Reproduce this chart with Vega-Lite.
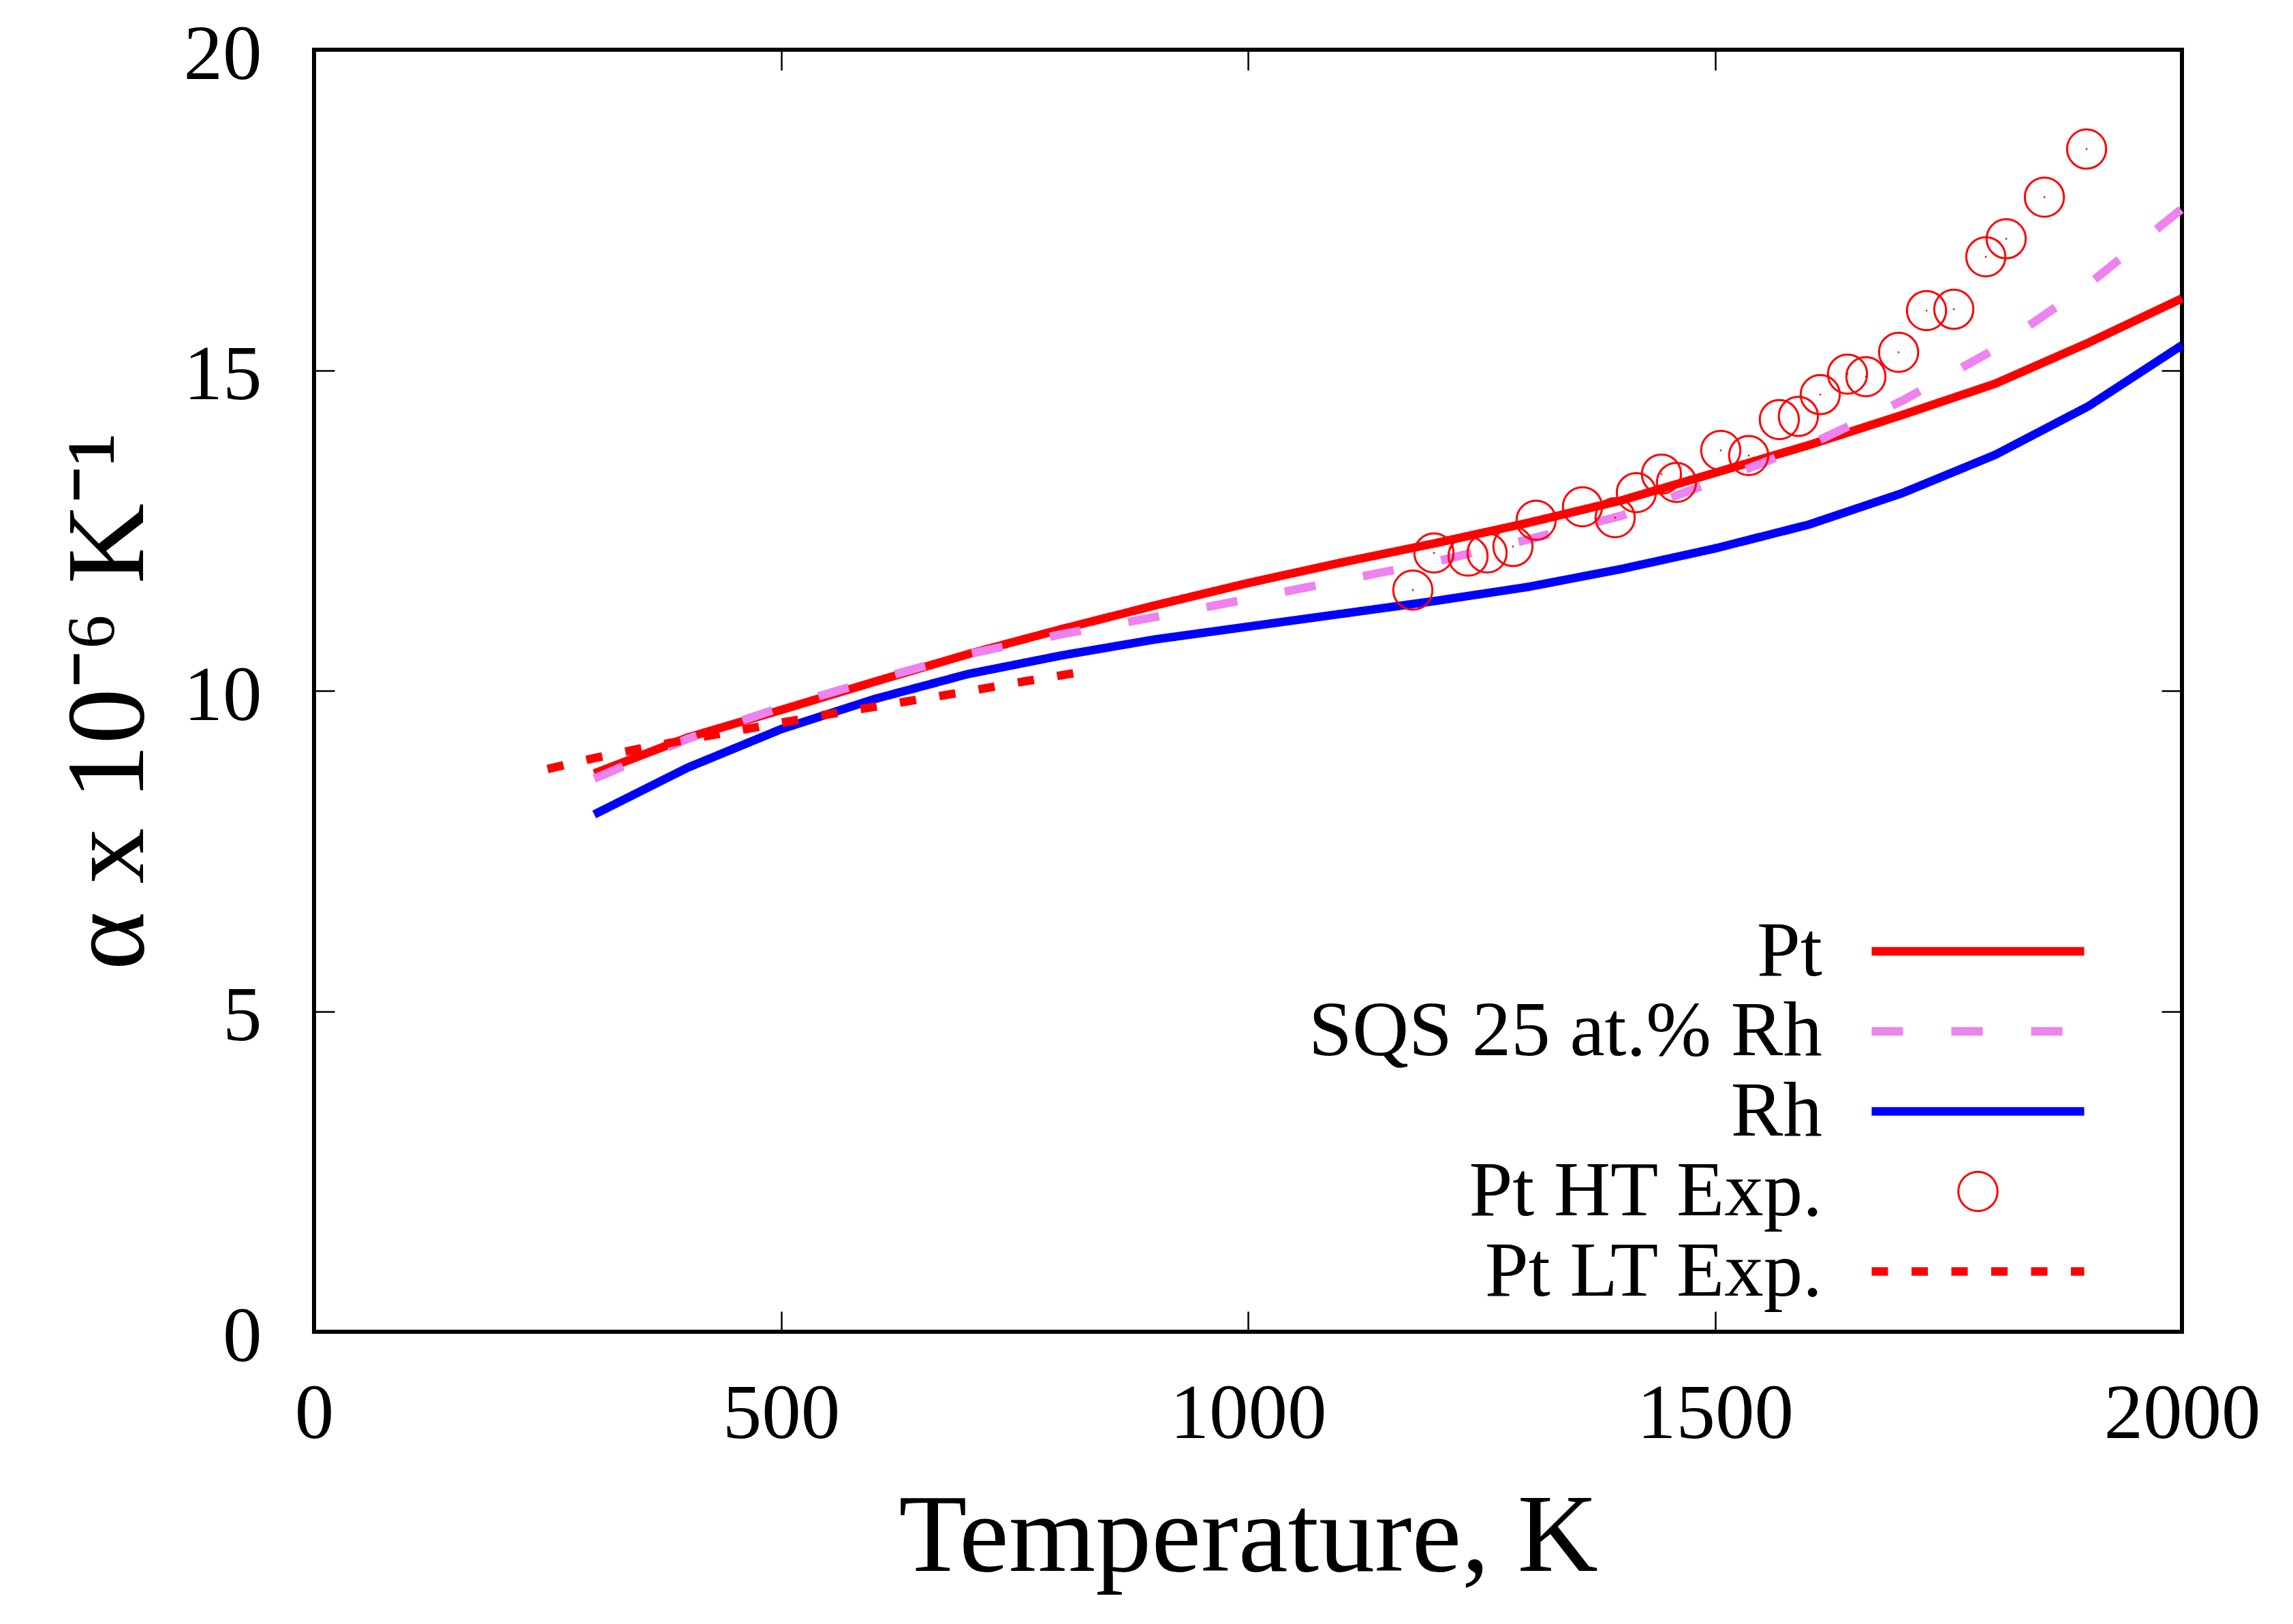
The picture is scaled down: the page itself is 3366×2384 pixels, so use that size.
{
  "$schema": "https://vega.github.io/schema/vega-lite/v6.json",
  "width": 2742,
  "height": 1882,
  "autosize": {"type": "none"},
  "padding": {"left": 461, "top": 73, "right": 163, "bottom": 429},
  "background": "white",
  "config": {
    "view": {"stroke": "black", "strokeWidth": 6},
    "axis": {
      "labelFont": "Liberation Serif",
      "labelFontSize": 115,
      "labelColor": "black",
      "labelLimit": 2000,
      "format": "d",
      "titleFont": "Liberation Serif",
      "titleFontWeight": "normal",
      "titleColor": "black",
      "titleLimit": 3000,
      "tickColor": "black",
      "tickWidth": 2.5,
      "grid": false,
      "domain": false
    },
    "legend": {
      "labelFont": "Liberation Serif",
      "labelFontSize": 115,
      "labelColor": "black",
      "labelLimit": 3000,
      "padding": 0
    }
  },
  "data": {
    "values": [
      {"series": "Pt", "T": 300, "a": 8.71},
      {"series": "Pt", "T": 400, "a": 9.27},
      {"series": "Pt", "T": 500, "a": 9.70},
      {"series": "Pt", "T": 600, "a": 10.14},
      {"series": "Pt", "T": 700, "a": 10.57},
      {"series": "Pt", "T": 800, "a": 10.96},
      {"series": "Pt", "T": 900, "a": 11.33},
      {"series": "Pt", "T": 1000, "a": 11.68},
      {"series": "Pt", "T": 1100, "a": 12.00},
      {"series": "Pt", "T": 1200, "a": 12.30},
      {"series": "Pt", "T": 1300, "a": 12.62},
      {"series": "Pt", "T": 1400, "a": 12.97},
      {"series": "Pt", "T": 1500, "a": 13.40},
      {"series": "Pt", "T": 1600, "a": 13.83},
      {"series": "Pt", "T": 1700, "a": 14.30},
      {"series": "Pt", "T": 1800, "a": 14.79},
      {"series": "Pt", "T": 1900, "a": 15.43},
      {"series": "Pt", "T": 2000, "a": 16.12},
      {"series": "SQS 25 at.% Rh", "T": 300, "a": 8.63},
      {"series": "SQS 25 at.% Rh", "T": 400, "a": 9.25},
      {"series": "SQS 25 at.% Rh", "T": 500, "a": 9.74},
      {"series": "SQS 25 at.% Rh", "T": 600, "a": 10.17},
      {"series": "SQS 25 at.% Rh", "T": 700, "a": 10.57},
      {"series": "SQS 25 at.% Rh", "T": 800, "a": 10.88},
      {"series": "SQS 25 at.% Rh", "T": 900, "a": 11.15},
      {"series": "SQS 25 at.% Rh", "T": 1000, "a": 11.43},
      {"series": "SQS 25 at.% Rh", "T": 1100, "a": 11.72},
      {"series": "SQS 25 at.% Rh", "T": 1200, "a": 12.01},
      {"series": "SQS 25 at.% Rh", "T": 1300, "a": 12.36},
      {"series": "SQS 25 at.% Rh", "T": 1400, "a": 12.73},
      {"series": "SQS 25 at.% Rh", "T": 1500, "a": 13.27},
      {"series": "SQS 25 at.% Rh", "T": 1600, "a": 13.83},
      {"series": "SQS 25 at.% Rh", "T": 1700, "a": 14.52},
      {"series": "SQS 25 at.% Rh", "T": 1800, "a": 15.33},
      {"series": "SQS 25 at.% Rh", "T": 1900, "a": 16.34},
      {"series": "SQS 25 at.% Rh", "T": 2000, "a": 17.52},
      {"series": "Rh", "T": 300, "a": 8.07},
      {"series": "Rh", "T": 400, "a": 8.80},
      {"series": "Rh", "T": 500, "a": 9.40},
      {"series": "Rh", "T": 600, "a": 9.87},
      {"series": "Rh", "T": 700, "a": 10.26},
      {"series": "Rh", "T": 800, "a": 10.55},
      {"series": "Rh", "T": 900, "a": 10.80},
      {"series": "Rh", "T": 1000, "a": 11.00},
      {"series": "Rh", "T": 1100, "a": 11.20},
      {"series": "Rh", "T": 1200, "a": 11.40},
      {"series": "Rh", "T": 1300, "a": 11.62},
      {"series": "Rh", "T": 1400, "a": 11.90},
      {"series": "Rh", "T": 1500, "a": 12.22},
      {"series": "Rh", "T": 1600, "a": 12.59},
      {"series": "Rh", "T": 1700, "a": 13.08},
      {"series": "Rh", "T": 1800, "a": 13.68},
      {"series": "Rh", "T": 1900, "a": 14.44},
      {"series": "Rh", "T": 2000, "a": 15.39},
      {"series": "Pt LT Exp.", "T": 250, "a": 8.78},
      {"series": "Pt LT Exp.", "T": 300, "a": 8.95},
      {"series": "Pt LT Exp.", "T": 350, "a": 9.10},
      {"series": "Pt LT Exp.", "T": 400, "a": 9.24},
      {"series": "Pt LT Exp.", "T": 450, "a": 9.37},
      {"series": "Pt LT Exp.", "T": 500, "a": 9.50},
      {"series": "Pt LT Exp.", "T": 550, "a": 9.63},
      {"series": "Pt LT Exp.", "T": 600, "a": 9.75},
      {"series": "Pt LT Exp.", "T": 650, "a": 9.87},
      {"series": "Pt LT Exp.", "T": 700, "a": 9.99},
      {"series": "Pt LT Exp.", "T": 750, "a": 10.12},
      {"series": "Pt LT Exp.", "T": 800, "a": 10.24},
      {"series": "Pt LT Exp.", "T": 820, "a": 10.29},
      {"series": "Pt HT Exp.", "T": 1176.5, "a": 11.57},
      {"series": "Pt HT Exp.", "T": 1199.1, "a": 12.15},
      {"series": "Pt HT Exp.", "T": 1235.6, "a": 12.10},
      {"series": "Pt HT Exp.", "T": 1256.0, "a": 12.15},
      {"series": "Pt HT Exp.", "T": 1283.7, "a": 12.25},
      {"series": "Pt HT Exp.", "T": 1308.5, "a": 12.66},
      {"series": "Pt HT Exp.", "T": 1358.1, "a": 12.87},
      {"series": "Pt HT Exp.", "T": 1393.1, "a": 12.70},
      {"series": "Pt HT Exp.", "T": 1415.8, "a": 13.09},
      {"series": "Pt HT Exp.", "T": 1442.7, "a": 13.38},
      {"series": "Pt HT Exp.", "T": 1458.8, "a": 13.25},
      {"series": "Pt HT Exp.", "T": 1506.2, "a": 13.75},
      {"series": "Pt HT Exp.", "T": 1536.1, "a": 13.67},
      {"series": "Pt HT Exp.", "T": 1568.9, "a": 14.23},
      {"series": "Pt HT Exp.", "T": 1589.3, "a": 14.28},
      {"series": "Pt HT Exp.", "T": 1612.7, "a": 14.62},
      {"series": "Pt HT Exp.", "T": 1641.9, "a": 14.94},
      {"series": "Pt HT Exp.", "T": 1661.6, "a": 14.90},
      {"series": "Pt HT Exp.", "T": 1696.6, "a": 15.28},
      {"series": "Pt HT Exp.", "T": 1726.5, "a": 15.93},
      {"series": "Pt HT Exp.", "T": 1755.7, "a": 15.95},
      {"series": "Pt HT Exp.", "T": 1790.0, "a": 16.77},
      {"series": "Pt HT Exp.", "T": 1811.8, "a": 17.05},
      {"series": "Pt HT Exp.", "T": 1852.7, "a": 17.70},
      {"series": "Pt HT Exp.", "T": 1897.9, "a": 18.45}
    ]
  },
  "layer": [
    {
      "transform": [{"filter": "datum.series !== 'Pt HT Exp.'"}],
      "mark": {"type": "line", "strokeWidth": 12.5, "strokeCap": "butt"},
      "encoding": {
        "x": {
          "field": "T", "type": "quantitative",
          "scale": {"domain": [0, 2000], "nice": false, "zero": false},
          "axis": {
            "orient": "bottom",
            "values": [0, 500, 1000, 1500, 2000],
            "format": "d",
            "tickSize": -30,
            "labelPadding": 185,
            "labelBaseline": "alphabetic",
            "labelFlush": false,
            "labelOverlap": false,
            "title": "Temperature, K",
            "titleFontSize": 164,
            "titleBaseline": "alphabetic",
            "titleY": 350
          }
        },
        "y": {
          "field": "a", "type": "quantitative",
          "scale": {"domain": [0, 20], "nice": false, "zero": false},
          "axis": {
            "orient": "left",
            "values": [0, 5, 10, 15, 20],
            "format": "d",
            "tickSize": -30,
            "labelPadding": 107,
            "labelOffset": 7,
            "labelFlush": false,
            "labelOverlap": false,
            "title": "α x 10⁻⁶ K⁻¹",
            "titleFontSize": 164,
            "titleAngle": 270,
            "titleAlign": "center",
            "titleBaseline": "alphabetic",
            "titleX": -252,
            "titleY": 956
          }
        },
        "color": {
          "field": "series", "type": "nominal",
          "scale": {
            "domain": ["Pt", "SQS 25 at.% Rh", "Rh", "Pt HT Exp.", "Pt LT Exp."],
            "range": ["#ff0000", "#ee82ee", "#0000ff", "#ff0000", "#ff0000"]
          },
          "legend": {
            "title": null,
            "orient": "none",
            "legendX": 2385,
            "legendY": 1266,
            "direction": "vertical",
            "labelAlign": "right",
            "labelOffset": -286,
            "rowPadding": 1.5,
            "symbolSize": 97344,
            "symbolStrokeWidth": 12.5,
            "symbolFillColor": "transparent",
            "encode": {
              "symbols": {
                "update": {
                  "fill": {"value": "transparent"},
                  "fillOpacity": {"value": 0},
                  "shape": {"signal": "datum.value === 'Pt HT Exp.' ? 'circle' : 'stroke'"},
                  "size": {"signal": "datum.value === 'Pt HT Exp.' ? 3300 : 97344"},
                  "strokeWidth": {"signal": "datum.value === 'Pt HT Exp.' ? 3 : 12.5"}
                }
              }
            }
          }
        },
        "strokeDash": {
          "field": "series", "type": "nominal",
          "scale": {
            "domain": ["Pt", "SQS 25 at.% Rh", "Rh", "Pt HT Exp.", "Pt LT Exp."],
            "range": [[1, 0], [46, 71], [1, 0], [1, 0], [24, 34.5]]
          }
        }
      }
    },
    {
      "transform": [{"filter": "datum.series === 'Pt HT Exp.'"}],
      "mark": {"type": "point", "shape": "circle", "filled": false, "size": 3300, "strokeWidth": 3, "opacity": 1},
      "encoding": {
        "x": {
          "field": "T", "type": "quantitative",
          "axis": {"orient": "top", "values": [0, 500, 1000, 1500, 2000], "tickSize": -30, "labels": false, "title": null}
        },
        "y": {
          "field": "a", "type": "quantitative",
          "axis": {"orient": "right", "values": [0, 5, 10, 15, 20], "tickSize": -30, "labels": false, "title": null}
        },
        "color": {"field": "series", "type": "nominal"}
      }
    },
    {
      "transform": [{"filter": "datum.series === 'Pt HT Exp.'"}],
      "mark": {"type": "point", "shape": "square", "filled": true, "size": 6, "opacity": 1},
      "encoding": {
        "x": {"field": "T", "type": "quantitative", "axis": null},
        "y": {"field": "a", "type": "quantitative", "axis": null},
        "color": {"field": "series", "type": "nominal", "legend": null}
      }
    }
  ],
  "resolve": {"axis": {"x": "independent", "y": "independent"}}
}
